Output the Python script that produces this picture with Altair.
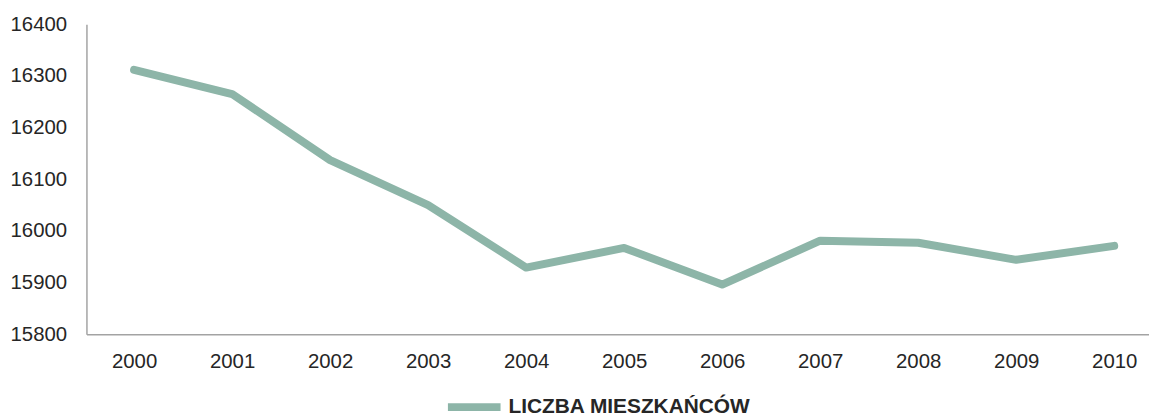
import altair as alt
import pandas as pd

years = [2000, 2001, 2002, 2003, 2004, 2005, 2006, 2007, 2008, 2009, 2010]
population = [16312, 16265, 16137, 16050, 15929, 15967, 15896, 15981, 15977, 15944, 15971]
series_name = "LICZBA MIESZKAŃCÓW"
y_ticks = [15800, 15900, 16000, 16100, 16200, 16300, 16400]

df = pd.DataFrame({"year": years, "value": population, "series": [series_name] * len(years)})

FONT = "Liberation Sans"
LINE_COLOR = "#8db5a8"
AXIS_COLOR = "#a3a3a3"
TEXT_COLOR = "#262626"

chart = alt.Chart(df).mark_line(
    strokeWidth=8, strokeCap="round", strokeJoin="round"
).encode(
    x=alt.X(
        "year:Q",
        scale=alt.Scale(domain=[1999.514, 2010.355], nice=False, zero=False),
        axis=alt.Axis(
            values=years, format="d", title=None, grid=False, ticks=False,
            labelFontSize=20.5, labelPadding=18, labelColor=TEXT_COLOR,
            labelFont=FONT, domainColor=AXIS_COLOR, domainWidth=1.5,
            labelFlush=False, labelOverlap=False,
        ),
    ),
    y=alt.Y(
        "value:Q",
        scale=alt.Scale(domain=[15800, 16400], nice=False, zero=False),
        axis=alt.Axis(
            values=y_ticks, format="d", title=None, grid=False, ticks=False,
            labelFontSize=20.5, labelPadding=20, labelColor=TEXT_COLOR,
            labelFont=FONT, domainColor=AXIS_COLOR, domainWidth=1.5,
            labelFlush=False, labelOverlap=False,
        ),
    ),
    color=alt.Color(
        "series:N",
        scale=alt.Scale(domain=[series_name], range=[LINE_COLOR]),
        legend=alt.Legend(
            title=None, orient="none", legendX=360, legendY=355,
            symbolType="stroke", symbolSize=2809, symbolStrokeWidth=8,
            labelFont=FONT, labelFontSize=21, labelFontWeight="bold",
            labelColor=TEXT_COLOR, labelOffset=4, labelLimit=500,
            direction="horizontal",
        ),
    ),
).properties(
    width=1070, height=312,
    autosize=alt.AutoSizeParams(type="none"),
    padding={"left": 79, "top": 15, "right": 0, "bottom": 85},
).configure_view(stroke=None)

chart.save("out.html", embed_options={"renderer": "svg", "actions": False})
